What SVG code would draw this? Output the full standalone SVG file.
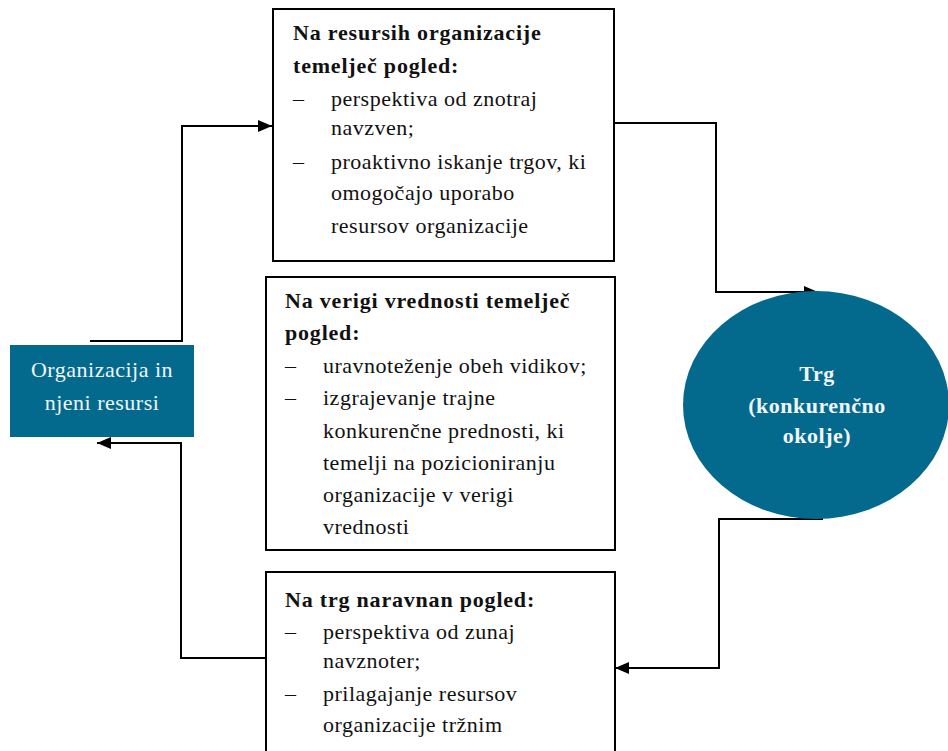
<svg xmlns="http://www.w3.org/2000/svg" width="948" height="751" viewBox="0 0 948 751">
  <style>
    .box { fill: #ffffff; stroke: #000000; stroke-width: 2; }
    .t { font-family: "Liberation Serif", "Times New Roman", serif; font-size: 22px; letter-spacing: 0.5px; fill: #111111; }
    .b { font-weight: bold; letter-spacing: 0.8px; }
    .w { fill: #f2f5f7; }
    .c { text-anchor: middle; letter-spacing: 0.5px; }
    .link { fill: none; stroke: #000000; stroke-width: 2; }
    .node-fill { fill: #036a8e; }
  </style>
  <defs>
    <marker id="arrow" viewBox="0 0 14 12" refX="14" refY="6" markerWidth="14" markerHeight="12" markerUnits="userSpaceOnUse" orient="auto">
      <path d="M0,0 L14,6 L0,12 Z" fill="#000000"/>
    </marker>
  </defs>
  <rect width="948" height="751" fill="#ffffff"/>

  <g id="connectors">
    <path class="link" d="M90,341 H182 V126 H272" marker-end="url(#arrow)"/>
    <path class="link" d="M614,123 H716 V292 H818" marker-end="url(#arrow)"/>
    <path class="link" d="M823,519 H719 V668 H615" marker-end="url(#arrow)"/>
    <path class="link" d="M266,658 H181 V443 H97" marker-end="url(#arrow)"/>
  </g>

  <g id="organizacija">
    <rect class="node-fill" x="10" y="345" width="184" height="92"/>
    <text class="t w c" x="102" y="377">Organizacija in</text>
    <text class="t w c" x="102" y="410">njeni resursi</text>
  </g>

  <g id="trg">
    <ellipse class="node-fill" cx="816" cy="405" rx="133" ry="114"/>
    <text class="t w c b" x="817" y="381">Trg</text>
    <text class="t w c b" x="817" y="413">(konkurenčno</text>
    <text class="t w c b" x="817" y="443">okolje)</text>
  </g>

  <g id="resursni-pogled">
    <rect class="box" x="273" y="9" width="341" height="252"/>
    <text class="t b" x="293" y="40">Na resursih organizacije</text>
    <text class="t b" x="293" y="73">temelječ pogled:</text>
    <text class="t" x="293" y="106">–</text>
    <text class="t" x="331" y="106">perspektiva od znotraj</text>
    <text class="t" x="331" y="135">navzven;</text>
    <text class="t" x="293" y="169">–</text>
    <text class="t" x="331" y="169">proaktivno iskanje trgov, ki</text>
    <text class="t" x="331" y="200">omogočajo uporabo</text>
    <text class="t" x="331" y="233">resursov organizacije</text>
  </g>

  <g id="verizni-pogled">
    <rect class="box" x="266" y="277" width="349" height="273"/>
    <text class="t b" x="285" y="308">Na verigi vrednosti temelječ</text>
    <text class="t b" x="285" y="340">pogled:</text>
    <text class="t" x="285" y="373">–</text>
    <text class="t" x="323" y="373">uravnoteženje obeh vidikov;</text>
    <text class="t" x="285" y="405">–</text>
    <text class="t" x="323" y="405">izgrajevanje trajne</text>
    <text class="t" x="323" y="438">konkurenčne prednosti, ki</text>
    <text class="t" x="323" y="470">temelji na pozicioniranju</text>
    <text class="t" x="323" y="502">organizacije v verigi</text>
    <text class="t" x="323" y="534">vrednosti</text>
  </g>

  <g id="trzni-pogled">
    <rect class="box" x="266" y="572" width="349" height="200"/>
    <text class="t b" x="285" y="607">Na trg naravnan pogled:</text>
    <text class="t" x="285" y="639">–</text>
    <text class="t" x="323" y="639">perspektiva od zunaj</text>
    <text class="t" x="323" y="668">navznoter;</text>
    <text class="t" x="285" y="701">–</text>
    <text class="t" x="323" y="701">prilagajanje resursov</text>
    <text class="t" x="323" y="732">organizacije tržnim</text>
  </g>
</svg>
